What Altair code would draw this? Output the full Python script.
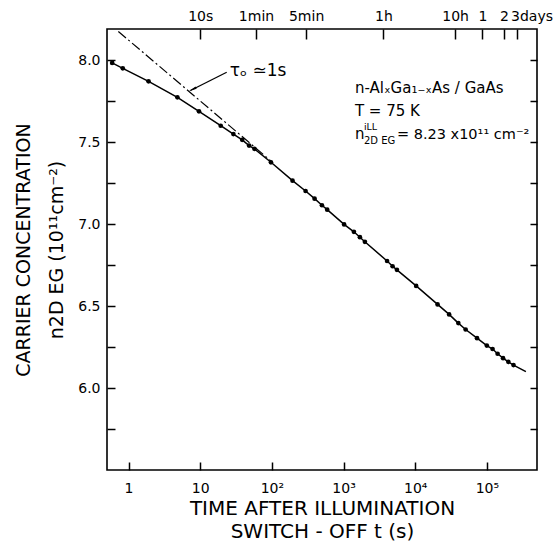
import altair as alt
import pandas as pd

# ---- data ----
t_s = [0.59, 0.83, 1.9, 4.8, 9.6, 19.3, 29, 38.5, 48, 57, 97, 194, 295, 394, 499, 591,
       1017, 1393, 1690, 1983, 4045, 4830, 5550, 10300, 20500, 29700, 39900, 50500,
       72800, 99700, 120000, 141000, 168000, 199000, 235000]
n_2deg = [7.983, 7.950, 7.871, 7.773, 7.688, 7.600, 7.549, 7.514, 7.479, 7.459, 7.377,
          7.265, 7.202, 7.155, 7.115, 7.088, 6.998, 6.953, 6.920, 6.892, 6.775, 6.743,
          6.721, 6.623, 6.510, 6.449, 6.396, 6.357, 6.304, 6.259, 6.238, 6.209, 6.182,
          6.160, 6.140]
curve_end_t = [350000]
curve_end_n = [6.10]

tau_t = [0.72, 100]          # tau_0 = 1 s asymptote (dash-dot)
tau_n = [8.175, 7.38]

arrow_t = [23.4, 7.3]
arrow_n = [7.926, 7.815]
head_t = [8.1]
head_n = [7.825]

bottom_vals = [1, 10, 100, 1000, 10000, 100000]
bottom_labels = ["1", "10", "10²", "10³", "10⁴", "10⁵"]
top_vals = [10, 60, 300, 3600, 36000, 86400, 172800, 259200]
top_labels = ["10s", "1min", "5min", "1h", "10h", "1", "2", "3days"]
y_vals = [5.75, 6.0, 6.25, 6.5, 6.75, 7.0, 7.25, 7.5, 7.75, 8.0]

X_DOMAIN = [0.5, 5e5]
Y_DOMAIN = [5.5, 8.19]
FONT = "DejaVu Sans"


def label_expr(vals, labels):
    expr = "''"
    for v, l in reversed(list(zip(vals, labels))):
        expr = f"datum.value == {v} ? '{l}' : ({expr})"
    return expr


pts = pd.DataFrame({"t": t_s, "n": n_2deg})
curve = pd.DataFrame({"t": t_s + curve_end_t, "n": n_2deg + curve_end_n})
tau = pd.DataFrame({"t": tau_t, "n": tau_n})
arrow = pd.DataFrame({"t": arrow_t, "n": arrow_n})
head = pd.DataFrame({"t": head_t, "n": head_n})

xs = alt.Scale(type="log", domain=X_DOMAIN, nice=False)
ys = alt.Scale(domain=Y_DOMAIN, nice=False, zero=False)

x_bottom = alt.X(
    "t:Q", scale=xs,
    axis=alt.Axis(
        orient="bottom", values=bottom_vals, labelExpr=label_expr(bottom_vals, bottom_labels),
        offset=-8, tickSize=8, domain=False, grid=False, labelPadding=11,
        labelFontSize=14, labelOverlap=False, labelFlush=False,
        title=["TIME AFTER ILLUMINATION", "SWITCH - OFF t (s)"],
        titleFontSize=20, titlePadding=3, titleLineHeight=23,
    ),
)
y_left = alt.Y(
    "n:Q", scale=ys,
    axis=alt.Axis(
        orient="left", values=y_vals,
        labelExpr="(datum.value * 4) % 2 == 0 ? format(datum.value, '.1f') : ''",
        offset=-8, tickSize=8, domain=False, grid=False, labelPadding=7,
        labelFontSize=14, labelOverlap=False, labelFlush=False,
        title=["CARRIER CONCENTRATION", "n2D EG (10¹¹cm⁻²)"],
        titleFontSize=19, titlePadding=11, titleLineHeight=33,
    ),
)
x_top = alt.X(
    "t:Q", scale=xs,
    axis=alt.Axis(
        orient="top", values=top_vals, labelExpr=label_expr(top_vals, top_labels),
        offset=-10, tickSize=10, domain=False, grid=False, labelPadding=6,
        labelFontSize=14, labelOverlap=False, labelFlush=False,
        labelAlign={"condition": {"test": "datum.value > 200000", "value": "left"}, "value": "center"},
        labelOffset={"condition": {"test": "datum.value > 200000", "value": -6}, "value": 0},
        title=None,
    ),
)
y_right = alt.Y(
    "n:Q", scale=ys,
    axis=alt.Axis(
        orient="right", values=y_vals, labels=False, offset=-7, tickSize=7,
        domain=False, grid=False, title=None,
    ),
)
x_none = alt.X("t:Q", scale=xs, axis=None)
y_none = alt.Y("n:Q", scale=ys, axis=None)

line = alt.Chart(curve).mark_line(color="black", strokeWidth=1.5).encode(
    x=x_bottom, y=y_left, order="t:Q")
dots = alt.Chart(pts).mark_circle(color="black", size=22, opacity=1).encode(x=x_none, y=y_none)
tau_line = alt.Chart(tau).mark_line(color="black", strokeWidth=1.2, strokeDash=[10, 3, 2, 3]).encode(
    x=x_top, y=y_right)
arrow_line = alt.Chart(arrow).mark_line(color="black", strokeWidth=1.3).encode(x=x_none, y=y_none)
arrow_head = alt.Chart(head).mark_point(
    shape="wedge", filled=True, color="black", size=90, angle=243.5, opacity=1
).encode(x=x_none, y=y_none)

# text annotations
tau_text = pd.DataFrame({"t": [25.9], "n": [7.936], "label": ["τₒ ≃1s"]})
info = pd.DataFrame({
    "t": [1439, 1439],
    "n": [7.798, 7.658],
    "label": ["n-AlₓGa₁₋ₓAs / GaAs", "T = 75 K"],
})
n_line = pd.DataFrame({"t": [1439], "n": [7.516]})

t1 = alt.Chart(tau_text).mark_text(font=FONT, fontSize=17, align="left", baseline="middle").encode(
    x=x_none, y=y_none, text="label:N")
t2 = alt.Chart(info).mark_text(font=FONT, fontSize=15, align="left", baseline="alphabetic").encode(
    x=x_none, y=y_none, text="label:N")
t3a = alt.Chart(n_line).mark_text(font=FONT, fontSize=15, align="left", baseline="alphabetic").encode(
    x=x_none, y=y_none, text=alt.value("n"))
t3b = alt.Chart(n_line).mark_text(font=FONT, fontSize=9.5, align="left", baseline="alphabetic",
                                  dx=9, dy=-9).encode(x=x_none, y=y_none, text=alt.value("iLL"))
t3c = alt.Chart(n_line).mark_text(font=FONT, fontSize=10, align="left", baseline="alphabetic",
                                  dx=9, dy=5).encode(x=x_none, y=y_none, text=alt.value("2D EG"))
t3d = alt.Chart(n_line).mark_text(font=FONT, fontSize=14.5, align="left", baseline="alphabetic",
                                  dx=42).encode(x=x_none, y=y_none, text=alt.value("= 8.23 x10¹¹ cm⁻²"))

chart = alt.layer(
    line, tau_line, dots, arrow_line, arrow_head, t1, t2, t3a, t3b, t3c, t3d
).resolve_axis(
    x="independent", y="independent"
).properties(
    width=430, height=441,
    autosize=alt.AutoSizeParams(type="none"),
    padding={"left": 107, "top": 29, "right": 21, "bottom": 74},
    background="white",
).configure_view(
    stroke="black", strokeWidth=1.6
).configure_axis(
    labelFont=FONT, titleFont=FONT, labelColor="black", titleColor="black",
    tickColor="black", tickWidth=1.5, titleFontWeight="normal",
)

chart.save("out.html", embed_options={"renderer": "svg", "actions": False})
